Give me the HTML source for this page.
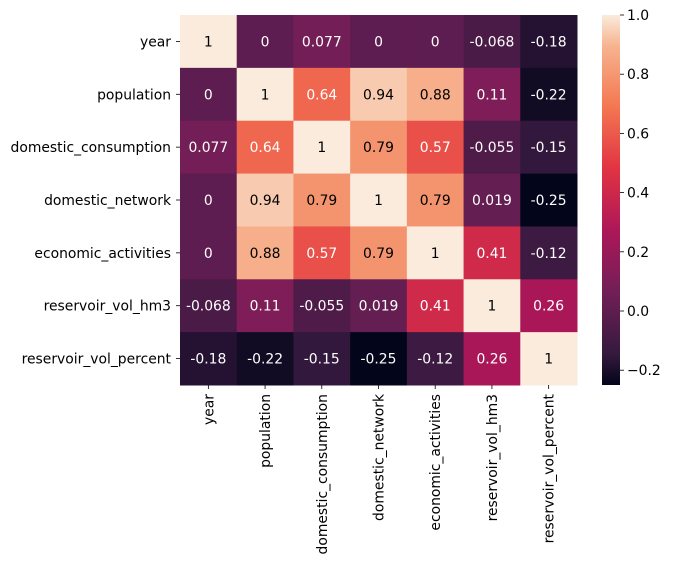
<!DOCTYPE html>
<html><head><meta charset="utf-8"><style>
body{margin:0;background:#fff}
svg text{font-family:"DejaVu Sans","Liberation Sans",sans-serif;font-size:13.9px}
</style></head><body>
<svg id="c" width="673" height="565" xmlns="http://www.w3.org/2000/svg">
<defs><linearGradient id="g" x1="0" y1="1" x2="0" y2="0">
<stop offset="0" stop-color="#03051a"/><stop offset="0.083" stop-color="#35193e"/><stop offset="0.25" stop-color="#701f57"/><stop offset="0.417" stop-color="#ad1759"/><stop offset="0.583" stop-color="#e13342"/><stop offset="0.75" stop-color="#f37651"/><stop offset="0.917" stop-color="#f6b48f"/><stop offset="1" stop-color="#faebdd"/>
</linearGradient></defs>
<g id="cells"></g>
<rect x="602" y="15" width="18" height="370" fill="url(#g)"/>
<g id="cb"></g>
</svg>
<script>
const labels=["year","population","domestic_consumption","domestic_network","economic_activities","reservoir_vol_hm3","reservoir_vol_percent"];
const row0=[1,0,0.077,0,0,-0.068,-0.18];
const row1=[0,1,0.64,0.94,0.88,0.11,-0.22];
const row2=[0.077,0.64,1,0.79,0.57,-0.055,-0.15];
const row3=[0,0.94,0.79,1,0.79,0.019,-0.25];
const row4=[0,0.88,0.57,0.79,1,0.41,-0.12];
const row5=[-0.068,0.11,-0.055,0.019,0.41,1,0.26];
const row6=[-0.18,-0.22,-0.15,-0.25,-0.12,0.26,1];
const matrix=[row0,row1,row2,row3,row4,row5,row6];
const cbTicks=[-0.2,0,0.2,0.4,0.6,0.8,1.0];
const vmin=-0.25,vmax=1;
const X0=180,X1=577,Y0=15,Y1=385,n=labels.length;
const cw=(X1-X0)/n,ch=(Y1-Y0)/n;
const stops=[[0,[3,5,26]],[0.083,[53,25,62]],[0.25,[112,31,87]],[0.417,[173,23,89]],[0.583,[225,51,66]],[0.75,[243,118,81]],[0.917,[246,180,143]],[1,[250,235,221]]];
function cmap(v){let t=(v-vmin)/(vmax-vmin);t=Math.max(0,Math.min(1,t));
for(let i=1;i<stops.length;i++){if(t<=stops[i][0]){const a=stops[i-1],b=stops[i],f=(t-a[0])/(b[0]-a[0]);return a[1].map((c,k)=>Math.round(c+(b[1][k]-c)*f));}}return stops[stops.length-1][1];}
function lum(c){const l=c.map(x=>{x/=255;return x<=0.03928?x/12.92:Math.pow((x+0.055)/1.055,2.4)});return 0.2126*l[0]+0.7152*l[1]+0.0722*l[2];}
const NS="http://www.w3.org/2000/svg";
function mk(t,a,p){const e=document.createElementNS(NS,t);for(const k in a)e.setAttribute(k,a[k]);p.appendChild(e);return e;}
const G=document.getElementById('cells'),S=document.getElementById('c');
matrix.forEach((row,i)=>row.forEach((v,j)=>{
 const c=cmap(v);
 const r=mk('rect',{x:X0+j*cw,y:Y0+i*ch,width:cw+0.5,height:ch+0.5,fill:`rgb(${c})`},G);
 
 
 const t=mk('text',{x:X0+(j+0.5)*cw,y:Y0+(i+0.5)*ch+5,'text-anchor':'middle',fill:lum(c)>0.408?'#000':'#fff'},G);
 t.textContent=String(v);
 
 
}));
labels.forEach((l,i)=>{
 const y=Y0+(i+0.5)*ch;
 mk('line',{x1:X0-4,x2:X0,y1:y,y2:y,stroke:'#000','stroke-width':0.8},S);
 const t=mk('text',{x:X0-9,y:y+5,'text-anchor':'end',fill:'#000'},S);t.textContent=l;
 
 
 const x=X0+(i+0.5)*cw;
 mk('line',{x1:x,x2:x,y1:Y1,y2:Y1+4,stroke:'#000','stroke-width':0.8},S);
 const u=mk('text',{x:0,y:0,'text-anchor':'end',fill:'#000',transform:`translate(${x+5},${Y1+9}) rotate(-90)`},S);u.textContent=l;
 
 
});
const CB=document.getElementById('cb');
cbTicks.forEach(v=>{
 const y=Y1-(v-vmin)/(vmax-vmin)*(Y1-Y0);
 mk('line',{x1:620,x2:624,y1:y,y2:y,stroke:'#000','stroke-width':0.8},CB);
 const t=mk('text',{x:627,y:y+5,fill:'#000'},CB);t.textContent=v<0?'\u2212'+Math.abs(v).toFixed(1):v.toFixed(1);
 
 
});
</script>
</body></html>
